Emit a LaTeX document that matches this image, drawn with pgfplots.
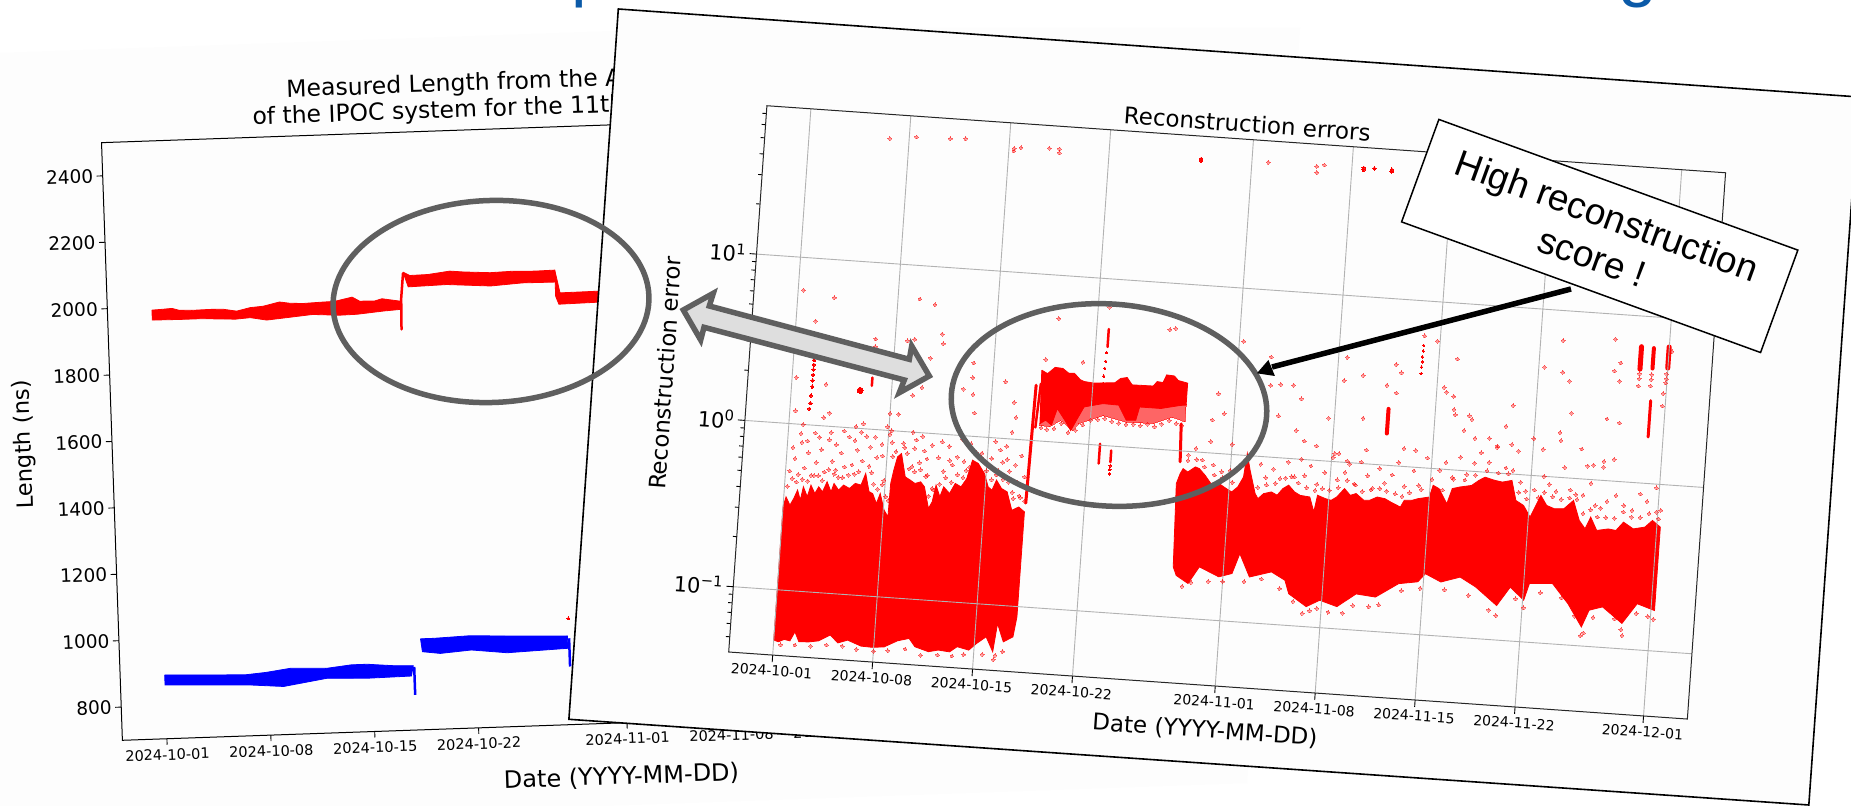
\documentclass[border=0pt]{standalone}
\usepackage{fontspec}
\setmainfont{DejaVu Sans}
\newfontfamily\arial{Liberation Sans}
\usepackage{pgfplots}
\pgfplotsset{compat=1.18}
\definecolor{ringgrey}{HTML}{5F5F5F}
\definecolor{titleblue}{HTML}{0B5AA8}
\definecolor{panel}{HTML}{FDFDFD}
\newcommand{\fs}[1]{\fontsize{#1}{#1}\selectfont}
\pgfplotsset{
  dots/.style={red, only marks, mark=*, mark size=1.9pt, opacity=.4, mark options={solid, draw=red, fill=red, line width=0pt}},
  solid dots/.style={red, only marks, mark=*, mark size=1.7pt, mark options={solid, draw=red, fill=red, line width=0pt}},
  streak/.style={red, line width=#1, line cap=round},
  streak/.default=2.5pt,
}
\begin{document}
\begin{tikzpicture}[x=1pt,y=1pt]
\useasboundingbox (0,0) rectangle (1851,806);
\fill[white] (0,0) rectangle (1851,806);
\fill[panel] (0,753) -- (700,778) -- (1300,778) -- (1247,23) -- (600,0) -- (0,0) -- cycle;
\node[anchor=base west, text=titleblue, font=\arial\fs{70}, inner sep=0pt] at (571.5,812) {p};
\node[anchor=base west, text=titleblue, font=\arial\fs{70}, inner sep=0pt] at (1618,812) {g};

% LEFT CHART
\begin{scope}[transform canvas={shift={(122.4pt,65.7pt)},rotate=2}]
\begin{axis}[
  at={(0pt,0pt)}, anchor=south west,
  scale only axis, width=995pt, height=598pt,
  xmin=-3, xmax=64, ymin=700, ymax=2500,
  xtick={0,7,14,21,31,38,45,52,61},
  xticklabels={2024-10-01,2024-10-08,2024-10-15,2024-10-22,2024-11-01,2024-11-08,2024-11-15,2024-11-22,2024-12-01},
  ytick={800,1000,1200,1400,1600,1800,2000,2200,2400},
  /pgf/number format/assume math mode=true,
  /pgf/number format/1000 sep={},
  xtick pos=bottom, ytick pos=left,
  tick align=outside, major tick length=6pt,
  tick style={black,line width=.9pt},
  axis line style={black,line width=1pt},
  xticklabel style={font=\fs{14.5}, yshift=-1pt},
  yticklabel style={font=\fs{18.5}},
  xlabel={Date (YYYY-MM-DD)}, ylabel={Length (ns)},
  xlabel style={font=\fs{24}, yshift=-15pt},
  ylabel style={font=\fs{22.5}, yshift=13pt},
  extra description/.code={
    \node[anchor=west,font=\fs{23.5}] at (axis description cs:0.149,1.032) {of the IPOC system for the 11th};
    \node[anchor=west,font=\fs{23.5}] at (axis description cs:0.184,1.076) {Measured Length from the A};
  },
]
% red band
\addplot[red,fill=red,line width=.8pt] coordinates {
 (0,1991)(.6,1992)(1.35,1994)(1.8,1988)(2.7,1986)(3.9,1987)(4.8,1986)(5.7,1979)(6.6,1988)(7.5,1991)(8.6,2002)(9.3,1997)(10.2,1995)(11.4,1997)(12.3,1998)(13.5,2009)(14,1996)(15,1995)(15.5,2001)(16.7,1992)
 (16.7,1967)(15.6,1964)(13.8,1957)(12.6,1956)(10.8,1961)(9,1954)(7.7,1949)(6.6,1958)(5.6,1955)(3.3,1960)(1.8,1960)(0,1961)(0,1991)};
\addplot[streak=2.5pt] coordinates {(16.75,1907)(16.8,2000)(16.98,2075)};
\addplot[red,fill=red,line width=.8pt] coordinates {
 (16.98,2079)(17.43,2068)(18.64,2069)(20.14,2077)(21.04,2073)(22.85,2068)(24.35,2070)(25.85,2068)(27.2,2069)
 (27.2,2033)(25,2034)(22.85,2028)(19.9,2037)(17.3,2034)(16.98,2079)};
\addplot[red,fill=red,line width=.8pt] coordinates {
 (27.2,2069)(27.5,2000)(30.06,2001)(34,2003)(34,1970)(30.06,1968)(27.4,1966)(27.2,1990)(27.2,2069)};
% blue band
\addplot[blue,fill=blue,line width=.8pt] coordinates {
 (0,892)(2.65,888)(5.4,884)(6.8,889)(8.5,899)(10.9,895)(12.6,903)(13.65,903)(15.4,896)(16.75,894)
 (16.6,863)(13.65,861)(10.9,865)(7.98,845)(5.74,853)(2.65,858)(0,862)(0,892)};
\addplot[blue,line width=2.5pt] coordinates {(16.81,806)(16.81,890)};
\addplot[blue,fill=blue,line width=.8pt] coordinates {
 (17.3,974)(18.2,974)(20.6,978)(23.3,973)(27.2,967)
 (27.2,930)(23.1,923)(20.7,935)(18.6,928)(17.4,935)(17.3,974)};
\addplot[blue,line width=2.5pt] coordinates {(27.3,875)(27.3,960)};
\addplot[solid dots, mark size=1.4pt] coordinates {(27.3,1020)};
\end{axis}
\end{scope}

% RIGHT PANEL
\filldraw[fill=panel, draw=black, line width=1.6pt] (618.3,797) -- (1859,709) -- (1808.8,1) -- (568.9,86.7) -- cycle;

% RIGHT CHART
\begin{scope}[transform canvas={shift={(728.7pt,154pt)},rotate=-4}]
\begin{axis}[
  at={(0pt,0pt)}, anchor=south west,
  scale only axis, width=961pt, height=547.6pt,
  ymode=log,
  xmin=-3.08, xmax=64.07, ymin=0.0405, ymax=78,
  axis on top,
  xtick={0,7,14,21,31,38,45,52,61},
  xticklabels={2024-10-01,2024-10-08,2024-10-15,2024-10-22,2024-11-01,2024-11-08,2024-11-15,2024-11-22,2024-12-01},
  ytick={0.1,1,10},
  yticklabels={10\textsuperscript{−1},10\textsuperscript{0},10\textsuperscript{1}},
  minor ytick={0.05,0.06,0.07,0.08,0.09,0.2,0.3,0.4,0.5,0.6,0.7,0.8,0.9,2,3,4,5,6,7,8,9,20,30,40,50,60,70},
  xtick pos=bottom, ytick pos=left,
  tick align=outside, major tick length=7pt, minor tick length=4pt,
  tick style={black,line width=.9pt},
  axis line style={black!85,line width=1pt},
  grid=major, major grid style={gray!60,line width=.9pt},
  xticklabel style={font=\fs{14}},
  yticklabel style={font=\fs{21}},
  title={Reconstruction errors},
  title style={font=\fs{23}, yshift=-3pt},
  xlabel={Date (YYYY-MM-DD)}, ylabel={Reconstruction error},
  xlabel style={font=\fs{23}, yshift=-7pt},
  ylabel style={font=\fs{22.8}, yshift=8pt},
]
% sparse scatter
\addplot[dots] coordinates {
(.3,.52)(.6,.62)(.8,.45)(1.0,.78)(1.3,.55)(1.5,.68)(1.8,.5)(2.1,.6)(2.4,.72)(2.7,.53)(2.9,.83)(3.2,.62)(3.5,.55)(3.8,.7)(4.1,.58)(4.3,.88)(4.6,.6)(4.9,.74)(5.3,.64)(5.5,.9)(6.0,.55)(6.3,.68)(6.6,.82)(6.9,.5)(7.1,.95)(7.4,.7)(8.1,.85)(8.4,.74)(8.8,.62)(9.0,.9)(9.3,.66)(9.6,.78)(9.9,.56)(10.3,.47)(10.6,.72)(11,.6)(11.3,.85)(11.6,.66)(11.9,.74)(12.2,.95)(12.6,.62)(13,.82)(13.6,.8)(14.1,.69)(14.3,.75)(14.7,.6)(15.1,.72)(15.3,.9)(15.6,.64)(15.9,.48)(16.2,.55)(16.5,.45)(16.7,.6)
(.4,.72)(.9,.88)(1.4,.8)(1.9,.9)(2.2,.85)(3,.92)(3.4,.78)(3.9,.95)(4.7,.84)(5.1,.95)(5.8,.78)(6.1,.9)(6.7,.7)(7.3,.85)(8.9,.8)(9.4,.95)(9.8,.7)(10.1,.85)(10.8,.9)(11.4,.7)(12.4,.7)(12.8,.9)(14.5,.95)(14.9,.85)(15.4,.75)(16,.7)(16.4,.8)
(.3,1.9)(.4,1.2)(1.0,1.0)(2.4,1.78)(2.8,1.2)(2.4,1.12)(1.37,4.2)(.36,6.36)(2.55,5.9)(5.2,1.07)(4.7,1.02)(7,1.26)(7.6,1.26)(6.9,1.05)(7.2,1.0)(8.7,1.0)(8.53,6.3)(9.6,5.9)(7.87,3.5)(8.37,3.6)(10.25,3.97)(10.37,3.48)(9.54,2.82)(9.1,1.86)(8.5,1.66)(12.6,2.75)(12.6,2.24)(12,1.9)(12.7,1.78)(12.9,1.38)(14.9,2.19)(15.6,1.66)(15.8,1.35)(15.6,1.1)(5.65,3.48)(5.65,3.13)
(17.6,3.09)(20.2,3.09)(18.3,5.5)(21.8,6.76)(26.1,5.25)(26.5,5.37)(29.8,2.28)(30.3,1.74)(29.5,1.58)(29.5,1.17)(31,1.15)(31.3,4.8)(33.3,3.98)(33.4,2.69)(35,2.75)
(17.6,1.2)(18,1.18)(18.5,1.2)(19,1.3)(19.5,1.15)(20,1.2)(20.5,1.3)(21,1.4)(21.5,1.42)(22,1.45)(22.5,1.4)(23,1.38)(23.5,1.36)(24,1.38)(24.5,1.36)(25,1.4)(25.5,1.36)(26,1.42)(26.5,1.5)(27,1.45)(27.4,1.42)
(28,.95)(28.5,1.05)(29,.9)(29.8,.85)(30.4,.78)(31,.8)(33.1,.9)(33.5,.75)(34,.85)(34.5,.75)(35,.95)(35.5,.78)(35.9,1.0)(36.2,.8)(36.6,.92)(37.1,.72)(37.6,.85)(38.1,1.06)(38.5,.78)(39,.87)(39.3,.98)(39.7,.75)(40.1,1.02)(40.6,.85)(41,.72)(41.4,.95)(41.8,.78)(42.3,.88)(42.7,1.05)(43.2,.76)(43.8,.95)(44.2,.78)(44.7,1.15)(45.6,.98)(46,1.1)(46.5,.9)(47,1.2)(47.5,.95)(48,1.12)(48.4,1.3)(49,1.15)(49.5,1.42)(50.2,1.08)(50.7,1.05)(51.3,.9)(51.7,.8)(52.3,.82)(52.9,1.0)(53.3,.9)(53.8,.82)(54.3,1.15)(54.8,.85)(55.3,.75)(55.7,.8)(56.2,.95)(56.6,.7)(57,.68)(57.4,.75)(58,.82)(58.6,.72)(59.2,.68)(59.7,.86)(60.2,.78)(60.8,.95)(61.2,.7)
(43.9,6.17)(44.8,5.8)(46.3,4.63)(42.05,4.04)(42.45,3.63)(39.8,3.37)(38.5,3.08)(38.6,4.26)(41.5,3.01)(42.2,2.73)(34.1,2.75)(35.6,2.3)(34.1,1.78)(37.6,1.81)(40,1.87)(35.4,1.48)(36,1.29)(36.9,1.22)(38.2,1.12)(38.5,1.12)(39.1,1.02)(40.4,1.21)(43,1.28)(43.83,1.26)(45.5,3.09)(45.7,2.9)(46.2,2.75)(46.3,2.3)(46.4,2.14)(47.4,2.14)(47.6,2.04)(50.4,2.57)(50,1.92)(47.1,1.74)(47.9,1.58)(48.9,1.6)(49.5,1.45)(50.5,1.5)(51,1.38)(52,1.66)(52.7,1.45)(52.4,4.5)(53.57,6.6)(53.7,4.27)(54.2,3.8)(54.5,2.45)(53.8,1.85)(53.9,1.66)(55.4,1.51)(55.9,1.2)(56.3,1.22)(57,1.3)(57,2.34)(57.9,2.24)(57.2,7.08)(57.7,5.13)(57.3,4.57)(57.7,3.98)(60.8,2.95)(60.8,3.5)(61.2,6.3)(57,1.2)(57.7,1.35)
(5.65,55.8)(7.51,58.5)(9.86,59)(10.93,60)(14.36,53)(14.36,55)(14.83,55.8)(16.81,57)(17.53,57)(17.53,54)(32.14,58)(35.54,57.4)(36.07,59)(35.57,52.7)
(.2,.42)(.5,.47)(.9,.5)(1.2,.47)(1.6,.46)(2,.5)(2.3,.5)(2.6,.47)(3,.55)(3.4,.52)(3.7,.5)(4,.5)(4.4,.52)(4.8,.53)(5.1,.55)(5.8,.6)(6.2,.47)(6.5,.44)(6.8,.47)(7.1,.4)(7.3,.38)(7.6,.75)(8.2,.8)(8.6,.6)(9,.58)(9.4,.6)(9.8,.55)(10.1,.42)(10.4,.46)(10.8,.5)(11.2,.55)(11.6,.52)(12,.58)(12.4,.56)(12.8,.65)(13.2,.8)(13.6,.75)(14,.63)(14.4,.56)(14.8,.64)(15.2,.57)(15.6,.55)(16,.44)(16.4,.46)(16.8,.43)
(.5,.047)(1.5,.0475)(2.6,.0475)(3.7,.049)(4.8,.049)(5.8,.0475)(7,.047)(8,.048)(9.2,.05)(10.3,.0465)(11.5,.0475)(12.5,.0475)(13.3,.049)(14.6,.05)(15.4,.047)(15.5,.05)(16,.053)
(33,.65)(33.6,.68)(34.2,.7)(34.9,.76)(35.3,.78)(35.8,.72)(36.4,.68)(37,.66)(37.5,.68)(38,.67)(38.6,.7)(39.2,.78)(39.8,.74)(40.3,.68)(40.9,.7)(41.5,.72)(42,.7)(42.6,.68)(43.1,.66)(43.6,.7)(44.4,.74)(45.1,.86)(45.9,.75)(46.6,.88)(47.4,.88)(48.1,.95)(48.9,1.02)(49.7,1.0)(50.4,1.0)(51.2,.78)(51.8,.72)(52.6,.74)(53,.8)(53.6,.76)(54.2,.74)(54.8,.76)(55.2,.8)(55.8,.62)(56.3,.66)(56.8,.6)(57.4,.6)(58,.6)(58.6,.66)(59.2,.62)(59.8,.62)(60.4,.66)(60.9,.68)(61.1,.62)(28,.88)(28.6,.9)(29.2,.82)(29.9,.74)(30.5,.72)(31.2,.68)
(28.2,.155)(28.8,.165)(30,.17)(31,.172)(32.5,.175)(33.7,.185)(35,.165)(36,.14)(36.7,.12)(37.2,.125)(37.7,.13)(38.5,.125)(39.5,.125)(40.2,.14)(41.3,.14)(42,.145)(43.5,.18)(44.8,.19)(46.5,.19)(48.2,.18)(49.7,.15)(50.2,.14)(51.5,.18)(52.1,.16)(53.2,.2)(54.7,.19)(55.7,.15)(56.2,.115)(56.4,.12)(57,.15)(58.5,.15)(59,.13)(59.1,.12)(60,.165)(60.8,.16)(61.2,.155)
};
\addplot[solid dots] coordinates {(27.45,57)(27.45,55.5)(38.82,58.9)(38.82,57.3)(39.57,59)(40.79,59)(40.79,57.5)};
\addplot[solid dots, mark size=3pt] coordinates {(4.81,1.69)};
% streaks
\addplot[solid dots] coordinates {(1.45,2.45)(1.45,2.3)(1.45,2.15)(1.45,2.0)(1.45,1.85)(1.45,1.7)(1.4,1.5)(1.4,1.35)(1.35,1.25)};
\addplot[streak] coordinates {(5.6,2.04)(5.6,1.82)};
\addplot[streak] coordinates {(21.84,5.0)(21.84,3.9)};
\addplot[solid dots, mark size=1.2pt] coordinates {(21.8,3.6)(21.78,3.2)(21.75,2.9)(21.72,2.6)(21.7,2.35)};
\addplot[streak] coordinates {(21.79,1.02)(21.79,.776)};
\addplot[streak] coordinates {(22.6,.94)(22.6,.8)};
\addplot[solid dots, mark size=1.2pt] coordinates {(22.6,.76)(22.6,.72)(22.6,.68)};
\addplot[solid dots, mark size=1.2pt] coordinates {(43.87,5.4)(43.87,5.0)(43.85,4.6)(43.85,4.3)(43.83,4.0)(43.83,3.66)};
\addplot[streak=4pt] coordinates {(41.73,2.18)(41.73,1.55)};
\addplot[streak=5pt] coordinates {(59.06,6.55)(59.06,4.8)};
\addplot[streak=4pt] coordinates {(59.93,6.5)(59.93,4.9)};
\addplot[streak=5pt] coordinates {(60.99,6.7)(60.99,5.0)};
\addplot[dots] coordinates {(59.05,4.5)(59.05,4.2)(59.03,3.8)(59.9,4.5)(59.9,4.2)(59.88,3.85)(60.95,4.6)(60.95,4.3)(60.93,4.07)};
\addplot[streak=3pt] coordinates {(59.96,3.14)(59.96,1.9)};
% transition spikes
\addplot[streak=3pt] coordinates {(16.9,.42)(17.05,2.15)};
\addplot[streak=2.5pt] coordinates {(17.2,1.2)(17.37,2.2)};
\addplot[streak=3pt] coordinates {(27.35,1.45)(27.46,.86)};
% dense block 1
\addplot[red,fill=red,line width=.8pt] coordinates {
(0,.315)(.16,.363)(.47,.325)(.71,.358)(.93,.403)(1.17,.352)(1.32,.424)(1.64,.371)(1.84,.437)(2.15,.391)(2.39,.43)(2.68,.403)(2.95,.465)(3.27,.406)(3.44,.457)(3.79,.419)(4.12,.451)(4.54,.433)(4.92,.467)(5.33,.459)(5.6,.541)(5.92,.422)(6.18,.413)(6.49,.361)(6.71,.416)(7.06,.332)(7.36,.304)(7.39,.483)(7.54,.581)(7.74,.701)(8.0,.737)(8.37,.536)(8.74,.515)(9.08,.494)(9.47,.508)(9.76,.476)(10.14,.355)(10.37,.39)(10.56,.493)(10.88,.421)(11.1,.485)(11.54,.445)(11.89,.514)(12.31,.493)(12.67,.556)(12.98,.72)(13.4,.692)(13.88,.605)(14.2,.506)(14.48,.485)(14.75,.56)(15.14,.501)(15.55,.481)(15.96,.375)(16.43,.395)(16.85,.371)
(16.84,.0867)(16.66,.0656)(16.01,.0607)(15.52,.0777)(15.32,.0524)(14.79,.064)(14.15,.0578)(13.64,.0524)(12.82,.0543)(12.31,.0502)(11.5,.0509)(10.84,.0493)(9.87,.0521)(9.43,.0581)(8.63,.0556)(7.73,.0505)(6.92,.0496)(6.11,.0499)(5.15,.0535)(4.49,.051)(3.91,.0564)(3.13,.0515)(2.47,.0503)(1.76,.0499)(1.44,.057)(1.13,.0501)(.72,.0508)(.33,.0489)(0,.0499)(0,.315)};
% dense block 2: fuzzy lower fringe, then the solid part
\addplot[red,fill=red,opacity=.6,line width=0pt] coordinates {
(17.5,1.9)(27.6,1.9)(27.6,1.5)(26.7,1.58)(25.4,1.42)(23.5,1.41)(21.87,1.51)(20.2,1.32)(19.8,1.2)(18.95,1.36)(18.18,1.23)(17.5,1.24)(17.5,1.9)};
\addplot[red,fill=red,line width=.8pt] coordinates {
(17.37,2.66)(17.79,2.55)(18.29,2.8)(18.83,2.78)(19.26,2.62)(19.66,2.63)(20.1,2.42)(20.38,2.37)(21.06,2.34)(22.53,2.4)(22.91,2.56)(23.36,2.61)(23.74,2.37)(25.22,2.38)(25.47,2.54)(25.88,2.52)(26.1,2.81)(26.64,2.79)(26.94,2.63)(27.6,2.56)
(27.6,1.89)(27.2,1.87)(25.86,1.76)(24.37,1.76)(24.16,1.46)(23.5,1.45)(22.9,1.77)(21.8,1.78)(20.5,1.67)(20.03,1.38)(19.68,1.19)(19.23,1.36)(18.64,1.59)(18.31,1.26)(17.88,1.34)(17.5,1.27)(17.37,2.66)};
% dense block 3
\addplot[red,fill=red,line width=.8pt] coordinates {
(27.3,.635)(27.52,.731)(27.7,.785)(28.04,.753)(28.55,.813)(28.83,.798)(29.27,.731)(29.71,.656)(30.1,.676)(30.8,.622)(31.2,.597)(31.6,.643)(31.95,.741)(32.1,1.03)(32.38,.818)(32.84,.597)(33.06,.558)(33.43,.601)(33.97,.62)(34.38,.596)(34.75,.656)(35.14,.692)(35.58,.634)(35.99,.608)(36.67,.6)(37.02,.49)(37.2,.619)(37.75,.596)(38.17,.585)(38.55,.616)(39.05,.697)(39.48,.638)(39.88,.658)(40.45,.604)(40.85,.607)(41.37,.64)(41.92,.63)(42.33,.605)(43.03,.57)(43.27,.628)(43.8,.632)(44.2,.65)(45.0,.673)(45.21,.794)(45.64,.762)(46.25,.624)(46.56,.773)(47.09,.796)(47.89,.822)(48.39,.889)(48.79,.933)(49.48,.902)(50.02,.887)(50.68,.916)(51.05,.698)(51.61,.656)(52.12,.562)(52.42,.649)(52.77,.766)(53.22,.671)(53.77,.646)(54.44,.652)(55.07,.738)(55.57,.562)(56.01,.505)(56.35,.596)(56.83,.499)(57.63,.515)(58.17,.508)(58.66,.574)(59.37,.528)(60.17,.547)(60.67,.604)(61.25,.555)
(61.25,.175)(60.01,.189)(59.04,.142)(57.61,.175)(56.69,.165)(56.23,.13)(55.18,.177)(54.01,.23)(52.4,.225)(52.08,.178)(51.08,.21)(50.22,.161)(48.66,.204)(47.54,.23)(46.22,.211)(45.1,.233)(44.61,.207)(43.28,.198)(41.73,.161)(40.37,.165)(39.09,.136)(37.86,.146)(36.95,.132)(35.67,.155)(35.34,.186)(34.36,.206)(32.85,.188)(32.07,.257)(31.62,.194)(30.71,.183)(29.31,.206)(28.6,.162)(27.74,.179)(27.49,.201)(27.3,.635)};
\end{axis}
\end{scope}

% annotations
\draw[ringgrey, line width=5.5pt] (491,504.5) ellipse [x radius=158, y radius=101, rotate=2];
\draw[ringgrey, line width=5.5pt] (1109,401) ellipse [x radius=158, y radius=101, rotate=-4];
\filldraw[fill=black!13, draw=ringgrey, line width=5.5pt, line join=miter]
 (683.3,496) -- (713.3,512.7) -- (709.3,500) -- (909.3,446.7) -- (911.7,460) -- (929.3,430) -- (899.3,413.3) -- (904.3,426) -- (704,478.7) -- (700.7,466) -- cycle;
\node[draw=black, fill=white, line width=1.5pt, rotate=-20, minimum width=382pt, minimum height=109pt, align=center, font=\arial\fontsize{37}{44}\selectfont, inner sep=0pt] at (1599.7,570) {High reconstruction\\score !};
\draw[black, line width=5.5pt] (1571,517) -- (1272,439);
\fill[black] (1256.9,432.7) -- (1268.4,446) -- (1274.9,430) -- cycle;
\end{tikzpicture}
\end{document}
